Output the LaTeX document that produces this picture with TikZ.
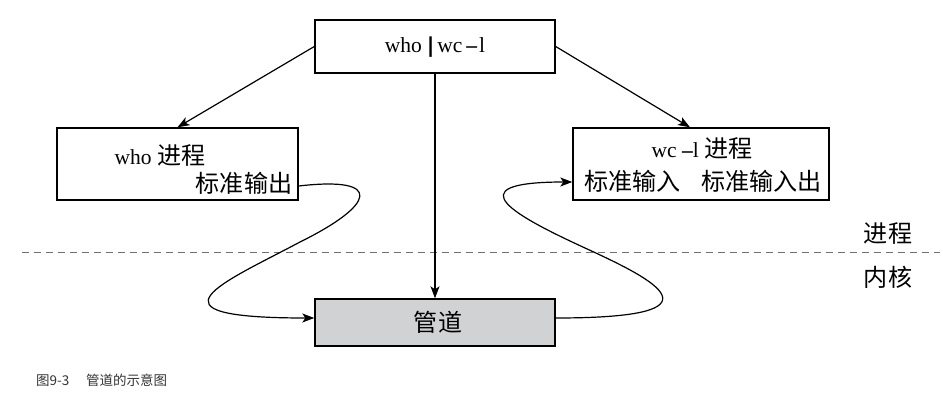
\documentclass[tikz,border=0pt]{standalone}
\usepackage{fontspec}
\setmainfont{Liberation Serif}
\newfontfamily\cjk[Scale=1.12]{Noto Sans CJK SC}
\newfontfamily\capfont{Noto Sans CJK SC}
\usepackage{tikz}
\usetikzlibrary{arrows.meta,positioning,calc}
\definecolor{pipegray}{HTML}{D1D2D4}
\definecolor{dashgray}{HTML}{707070}
\definecolor{capgray}{HTML}{333333}

\begin{document}
\begin{tikzpicture}[
    x=1pt, y=-1pt,
    procbox/.style={draw, line width=1.4pt, rectangle, inner sep=0pt},
    pipebox/.style={procbox, fill=pipegray},
    txt/.style={inner sep=0pt, font=\fontsize{21.5}{26}\selectfont},
    arr/.style={line width=1.2pt, -{Stealth[length=12pt,width=9pt,inset=3pt]}}
]
    \useasboundingbox (0,0) rectangle (943,401);
    % boxes
    \node[procbox, minimum width=240pt, minimum height=53pt] (cmd) at (435,46.5) {};
    \node[procbox, minimum width=241pt, minimum height=72pt] (who) at (177.5,164) {};
    \node[procbox, minimum width=256pt, minimum height=72pt] (wc) at (701,164) {};
    \node[pipebox, minimum width=240pt, minimum height=47pt] (pipe) at (435,322.5) {};
    % texts
    \node[txt] (cmdtxt) at (435,47) {who\kern5pt{\bfseries\scalebox{1.6}[1.05]{|}}\kern3pt wc\kern4pt{\bfseries--}\kern2pt l};
    \node[txt] (whotxt) at (160,155) {who {\cjk 进程}};
    \node[txt] (whoout) at (244,183) {\cjk 标准输出};
    \node[txt] (wctxt) at (702,148) {wc {\bfseries--}l {\cjk 进程}};
    \node[txt] (wcio) at (703,181) {\cjk 标准输入\hspace{0.85em}标准输入出};
    \node[txt] (pipetxt) at (438,322) {\cjk 管道};
    % user space / kernel
    \coordinate (dl) at (22,252); \coordinate (dr) at (940,252);
    \draw[dashgray, line width=1pt, dash pattern=on 7pt off 5pt] (dl) -- (dr);
    \node[txt] (user) at (888,233) {\cjk 进程};
    \node[txt] (kern) at (888,277) {\cjk 内核};
    % connectors
    \draw[arr] (who.east |- 0,186) .. controls (385,176) and (375,205) .. (300,242)
        .. controls (225,282) and (135,318) .. (pipe.west |- 0,318);
    \draw[arr] (pipe.east |- 0,318) .. controls (730,318) and (655,280) .. (585,248)
        .. controls (520,218) and (450,182) .. (wc.west |- 0,182);
    \draw[arr] (cmd.west) -- (who.north);
    \draw[arr] (cmd.east) -- ([xshift=-11pt]wc.north);
    \draw[arr] (cmd.south) -- (pipe.north);
    % caption
    \node[anchor=west, inner sep=0pt, text=capgray, font=\capfont\fontsize{13.5}{16}\selectfont] (cap) at (36,380) {图9-3\hspace{1.25em}管道的示意图};
\end{tikzpicture}
\end{document}
